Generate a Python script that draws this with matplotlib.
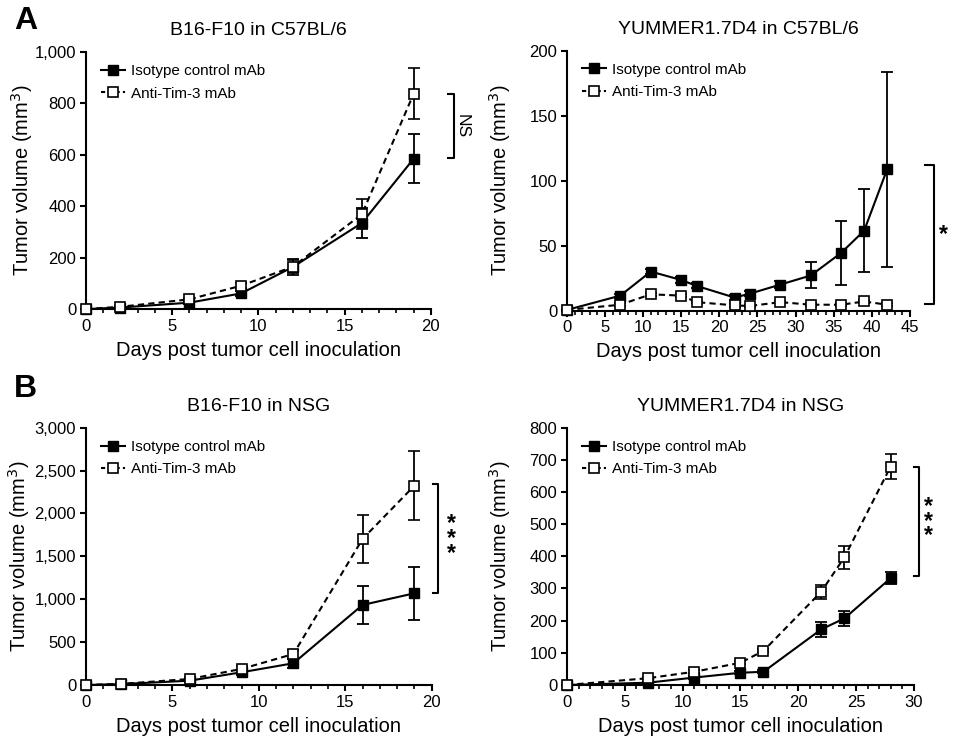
import numpy as np
import matplotlib
matplotlib.use('Agg')
import matplotlib.pyplot as plt
from matplotlib.lines import Line2D
from matplotlib.ticker import FuncFormatter, MultipleLocator

plt.rcParams['font.family'] = ['Liberation Sans', 'DejaVu Sans']

# A, left: B16-F10 in C57BL/6
days_a1 = [0, 2, 6, 9, 12, 16, 19]
iso_a1 = [0, 6, 25, 61, 164, 335, 585]
iso_a1_err = [0, 3, 6, 10, 30, 58, 95]
anti_a1 = [0, 9, 38, 91, 165, 369, 838]
anti_a1_err = [0, 3, 6, 10, 25, 58, 100]

# A, right: YUMMER1.7D4 in C57BL/6
days_a2 = [0, 7, 11, 15, 17, 22, 24, 28, 32, 36, 39, 42]
iso_a2 = [0.5, 11.5, 30, 23.5, 19, 10, 13, 20, 27, 44.5, 61.5, 108.5]
iso_a2_err = [0, 1.5, 2, 2, 2, 2, 2, 3, 10, 24.5, 32, 75]
anti_a2 = [0.5, 4.5, 12.5, 11.5, 6.5, 4, 3.5, 6.5, 4.5, 4.5, 7, 4.5]
anti_a2_err = [0, 1, 1, 1, 1, 1, 1, 1, 1, 1, 1, 1]

# B, left: B16-F10 in NSG
days_b1 = [0, 2, 6, 9, 12, 16, 19]
iso_b1 = [0, 10, 50, 148, 253, 933, 1069]
iso_b1_err = [0, 10, 20, 30, 50, 220, 307]
anti_b1 = [0, 12, 70, 187, 361, 1702, 2324]
anti_b1_err = [0, 10, 20, 30, 50, 275, 405]

# B, right: YUMMER1.7D4 in NSG
days_b2 = [0, 7, 11, 15, 17, 22, 24, 28]
iso_b2 = [0, 7, 23, 38, 41, 173, 207, 332]
iso_b2_err = [0, 3, 5, 5, 5, 24, 23, 19]
anti_b2 = [0, 21, 41, 69, 106, 290, 397, 679]
anti_b2_err = [0, 3, 5, 5, 5, 22, 35, 38]

panels = [
    dict(pos=[0.0901, 0.584, 0.3616, 0.346], title='B16-F10 in C57BL/6',
         days=days_a1, iso=iso_a1, iso_err=iso_a1_err, anti=anti_a1, anti_err=anti_a1_err,
         xmax=20, ymax=1000, ystep=200, sig='NS', br=(838, 588), br_x=(1.049, 1.067),
         sx=1.09, ylx=-0.148),
    dict(pos=[0.5943, 0.582, 0.3595, 0.350], title='YUMMER1.7D4 in C57BL/6',
         days=days_a2, iso=iso_a2, iso_err=iso_a2_err, anti=anti_a2, anti_err=anti_a2_err,
         xmax=45, ymax=200, ystep=50, sig='*', br=(111.6, 5), br_x=(1.044, 1.069),
         sx=1.097, ylx=-0.158),
    dict(pos=[0.0901, 0.0781, 0.3624, 0.3463], title='B16-F10 in NSG',
         days=days_b1, iso=iso_b1, iso_err=iso_b1_err, anti=anti_b1, anti_err=anti_b1_err,
         xmax=20, ymax=3000, ystep=500, sig='*\n*\n*', br=(2343, 1077), br_x=(1.004, 1.019),
         sx=1.058, ylx=-0.156),
    dict(pos=[0.5943, 0.0781, 0.3635, 0.3463], title='YUMMER1.7D4 in NSG',
         days=days_b2, iso=iso_b2, iso_err=iso_b2_err, anti=anti_b2, anti_err=anti_b2_err,
         xmax=30, ymax=800, ystep=100, sig='*\n*\n*', br=(679, 340), br_x=(1.0, 1.014),
         sx=1.043, ylx=-0.157),
]

fig = plt.figure(figsize=(9.54, 7.43), dpi=100)

for p in panels:
    ax = fig.add_axes(p['pos'])
    ax.errorbar(p['days'], p['iso'], yerr=p['iso_err'], color='black', lw=1.5,
                marker='s', ms=7.5, mfc='black', mec='black', capsize=4, elinewidth=1.3,
                capthick=1.3, clip_on=False, zorder=3)
    ax.errorbar(p['days'], p['anti'], yerr=p['anti_err'], color='black', lw=1.5,
                ls=(0, (3, 2)), marker='s', ms=7.5, mfc='white', mec='black', mew=1.2,
                capsize=4, elinewidth=1.3, capthick=1.3, clip_on=False, zorder=4)
    ax.set_xlim(0, p['xmax'])
    ax.set_ylim(0, p['ymax'])
    ax.xaxis.set_major_locator(MultipleLocator(5))
    ax.xaxis.set_minor_locator(MultipleLocator(1))
    ax.yaxis.set_major_locator(MultipleLocator(p['ystep']))
    ax.yaxis.set_major_formatter(FuncFormatter(lambda v, pos: f'{int(v):,}'))
    for s in ['top', 'right']:
        ax.spines[s].set_visible(False)
    for s in ['left', 'bottom']:
        ax.spines[s].set_linewidth(1.5)
    ax.tick_params(which='major', direction='out', length=4, width=1.5, labelsize=12, pad=3)
    ax.tick_params(which='minor', direction='out', length=3, width=1.2)
    ax.set_title(p['title'], fontsize=14, pad=12)
    ax.set_xlabel('Days post tumor cell inoculation', fontsize=14.5, labelpad=5)
    ax.set_ylabel('Tumor volume (mm$^3$)', fontsize=14.5)
    ax.yaxis.set_label_coords(p['ylx'], 0.5)

    handles = [
        Line2D([], [], color='black', lw=1.5, marker='s', ms=7, mfc='black'),
        Line2D([], [], color='black', lw=1.5, ls=(0, (2, 1.5)), marker='s', ms=7,
               mfc='white', mew=1.2),
    ]
    ax.legend(handles, ['Isotype control mAb', 'Anti-Tim-3 mAb'], loc='upper left',
              frameon=False, fontsize=11, handlelength=1.6, handletextpad=0.35,
              labelspacing=0.55, borderaxespad=0.4, bbox_to_anchor=(0.008, 1.0))

    # significance bracket
    trans = ax.get_yaxis_transform()
    x0, x1 = p['br_x']
    top, bot = p['br']
    ax.plot([x0, x1, x1, x0], [top, top, bot, bot], color='black', lw=1.5,
            transform=trans, clip_on=False)
    if p['sig'] == 'NS':
        ax.text(p['sx'], (top + bot) / 2, p['sig'], transform=trans, rotation=-90,
                ha='center', va='center', fontsize=12.5)
    else:
        ax.text(p['sx'], (top + bot) / 2, p['sig'], transform=trans,
                ha='center', va='center', fontsize=16.5, fontweight='bold',
                linespacing=0.55)

fig.text(0.015, 0.972, 'A', fontsize=23, fontweight='bold', va='center')
fig.text(0.015, 0.476, 'B', fontsize=23, fontweight='bold', va='center')

plt.savefig('out.png', dpi=100)
